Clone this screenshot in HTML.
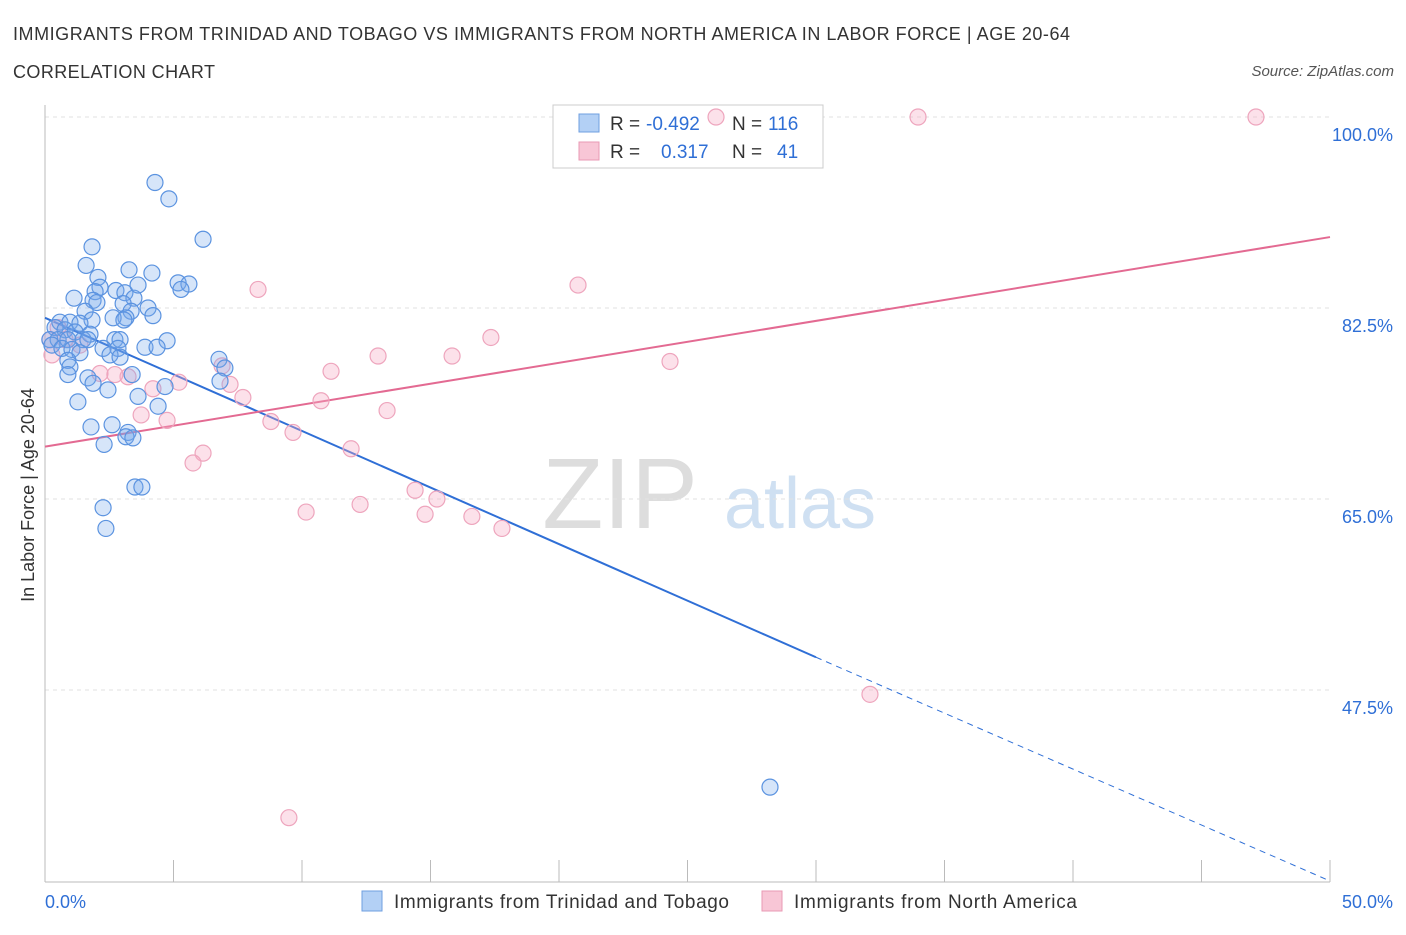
<!DOCTYPE html>
<html><head><meta charset="utf-8">
<style>
body{margin:0;background:#fff;font-family:"Liberation Sans",sans-serif;}
svg text{font-family:"Liberation Sans",sans-serif;}
</style></head>
<body>
<svg id="chart" width="1406" height="930">
<text x="13" y="40" font-size="18" fill="#333" textLength="1057">IMMIGRANTS FROM TRINIDAD AND TOBAGO VS IMMIGRANTS FROM NORTH AMERICA IN LABOR FORCE | AGE 20-64</text>
<text x="13" y="78" font-size="18" fill="#333" textLength="202">CORRELATION CHART</text>
<text x="1394" y="76" font-size="15" fill="#555" font-style="italic" text-anchor="end">Source: ZipAtlas.com</text>
<text x="620" y="528" font-size="100" fill="#ddd" font-family="Liberation Serif" text-anchor="middle">ZIP</text>
<text x="800" y="528" font-size="72" fill="#cfe0f2" text-anchor="middle">atlas</text>
<text transform="translate(34,495) rotate(-90)" font-size="18" fill="#333" text-anchor="middle">In Labor Force | Age 20-64</text>
<g id="grid"></g><g id="pts"></g><g id="lines"></g>
<g>
<rect x="553" y="105" width="270" height="63" fill="#fff" stroke="#ccc"/>
<rect x="579" y="114" width="20" height="18" fill="#b3d0f5" stroke="#6f9fe0"/>
<text x="610" y="130" font-size="19" fill="#333">R =</text>
<text x="646" y="130" font-size="19" fill="#2f6fd6">-0.492</text>
<text x="732" y="130" font-size="19" fill="#333">N =</text>
<text x="768" y="130" font-size="19" fill="#2f6fd6">116</text>
<rect x="579" y="142" width="20" height="18" fill="#f8c6d6" stroke="#e99ab4"/>
<text x="610" y="158" font-size="19" fill="#333">R =</text>
<text x="661" y="158" font-size="19" fill="#2f6fd6">0.317</text>
<text x="732" y="158" font-size="19" fill="#333">N =</text>
<text x="777" y="158" font-size="19" fill="#2f6fd6">41</text>
</g>
<g>
<rect x="362" y="891" width="20" height="20" fill="#b3d0f5" stroke="#6f9fe0"/>
<text x="394" y="908" font-size="19" fill="#333" textLength="335">Immigrants from Trinidad and Tobago</text>
<rect x="762" y="891" width="20" height="20" fill="#f8c6d6" stroke="#e99ab4"/>
<text x="794" y="908" font-size="19" fill="#333" textLength="283">Immigrants from North America</text>
</g>
<g id="top"></g>
</svg>
<script>
const blueX=[4.28,4.82,6.15,1.83,1.6,3.27,4.16,2.06,5.18,5.6,5.29,2.14,2.76,1.95,3.11,1.13,3.46,3.62,1.87,3.04,2.02,4.01,1.56,3.35,4.2,3.15,2.65,3.07,1.83,0.58,0.97,1.36,0.39,0.78,1.17,1.75,0.19,0.51,0.89,1.48,1.67,2.72,2.92,4.75,3.89,4.36,2.26,2.84,0.27,0.66,1.05,1.36,2.53,2.92,6.77,0.89,0.97,7.0,0.89,1.67,3.39,1.87,6.81,2.45,4.67,3.62,1.28,4.4,2.61,1.79,3.23,3.15,3.42,2.3,3.5,3.77,2.26,2.37,28.21];
const blueY=[94.0,92.5,88.8,88.1,86.4,86.0,85.7,85.3,84.8,84.7,84.2,84.4,84.1,84.0,83.9,83.4,83.4,84.6,83.2,82.9,83.0,82.5,82.2,82.2,81.8,81.6,81.6,81.4,81.4,81.2,81.2,81.1,80.7,80.5,80.3,80.1,79.6,79.6,79.6,79.6,79.6,79.6,79.6,79.5,78.9,78.9,78.8,78.8,79.1,78.8,78.7,78.4,78.2,78.0,77.8,77.7,77.1,77.0,76.4,76.1,76.4,75.6,75.8,75.0,75.3,74.4,73.9,73.5,71.8,71.6,71.1,70.7,70.6,70.0,66.1,66.1,64.2,62.3,38.6];
const pinkX=[26.11,33.97,47.12,8.29,20.74,17.35,12.96,15.84,24.32,11.13,0.51,0.19,0.78,1.36,0.27,2.14,3.23,2.72,5.21,4.2,7.2,6.89,7.7,10.74,13.31,3.74,4.75,8.79,9.65,11.91,6.15,5.76,14.4,15.25,10.16,12.26,14.79,16.61,17.78,32.1,9.49];
const pinkY=[100,100,100,84.2,84.6,79.8,78.1,78.1,77.6,76.7,80.7,79.6,79.6,79.1,78.2,76.5,76.2,76.4,75.7,75.1,75.5,77.2,74.3,74.0,73.1,72.7,72.2,72.1,71.1,69.6,69.2,68.3,65.8,65.0,63.8,64.5,63.6,63.4,62.3,47.1,35.8];
const xTicks=[0,5,10,15,20,25,30,35,40,45,50];
const yTicks=[47.5,65,82.5,100];
const blueFit=[0,30,50],blueFitY=[81.6,50.5,30.0];
const pinkFit=[0,50],pinkFitY=[69.8,89.0];
const X=v=>45+v*25.7, Y=v=>117+(100-v)*10.914;
const NS="http://www.w3.org/2000/svg";
function mk(p,t,a){const e=document.createElementNS(NS,t);for(const k in a)e.setAttribute(k,a[k]);p.appendChild(e);return e;}
const grid=document.getElementById('grid');
yTicks.forEach(t=>{
 const l=mk(grid,'line',{x1:45,x2:1330,y1:Y(t),y2:Y(t),stroke:'#e2e2e2','stroke-dasharray':'4,4'});
 
 
 const tx=mk(grid,'text',{x:1393,y:Y(t)+24,'font-size':18,fill:'#2f6fd6','text-anchor':'end'});tx.textContent=t.toFixed(1)+'%';
 
 
});
mk(grid,'line',{x1:45,x2:1330,y1:882,y2:882,stroke:'#bbb'});
mk(grid,'line',{x1:45,x2:45,y1:105,y2:882,stroke:'#bbb'});
xTicks.forEach(t=>{const l=mk(grid,'line',{x1:X(t),x2:X(t),y1:860,y2:882,stroke:'#bbb'});
 
 });
[[0,'0.0%','start',45],[50,'50.0%','end',1393]].forEach(d=>{const t=mk(grid,'text',{x:d[3],y:908,'font-size':18,fill:'#2f6fd6','text-anchor':d[2]});t.textContent=d[1];
 
 });
const pts=document.getElementById('top');
pinkX.forEach((x,i)=>{const c=mk(pts,'circle',{cx:X(x),cy:Y(pinkY[i]),r:8,fill:'rgba(245,170,195,0.35)',stroke:'#eea5bd','stroke-width':1.2});
 
 });
blueX.forEach((x,i)=>{const c=mk(pts,'circle',{cx:X(x),cy:Y(blueY[i]),r:8,fill:'rgba(120,170,235,0.3)',stroke:'#5b93e0','stroke-width':1.2});
 
 });
const lines=document.getElementById('lines');
let a=mk(lines,'line',{x1:X(blueFit[0]),y1:Y(blueFitY[0]),x2:X(blueFit[1]),y2:Y(blueFitY[1]),stroke:'#2f6fd6','stroke-width':2});


a=mk(lines,'line',{x1:X(blueFit[1]),y1:Y(blueFitY[1]),x2:X(blueFit[2]),y2:Y(blueFitY[2]),stroke:'#2f6fd6','stroke-width':1,'stroke-dasharray':'6,5'});


a=mk(lines,'line',{x1:X(pinkFit[0]),y1:Y(pinkFitY[0]),x2:X(pinkFit[1]),y2:Y(pinkFitY[1]),stroke:'#e36a92','stroke-width':2});


</script>
</body></html>
